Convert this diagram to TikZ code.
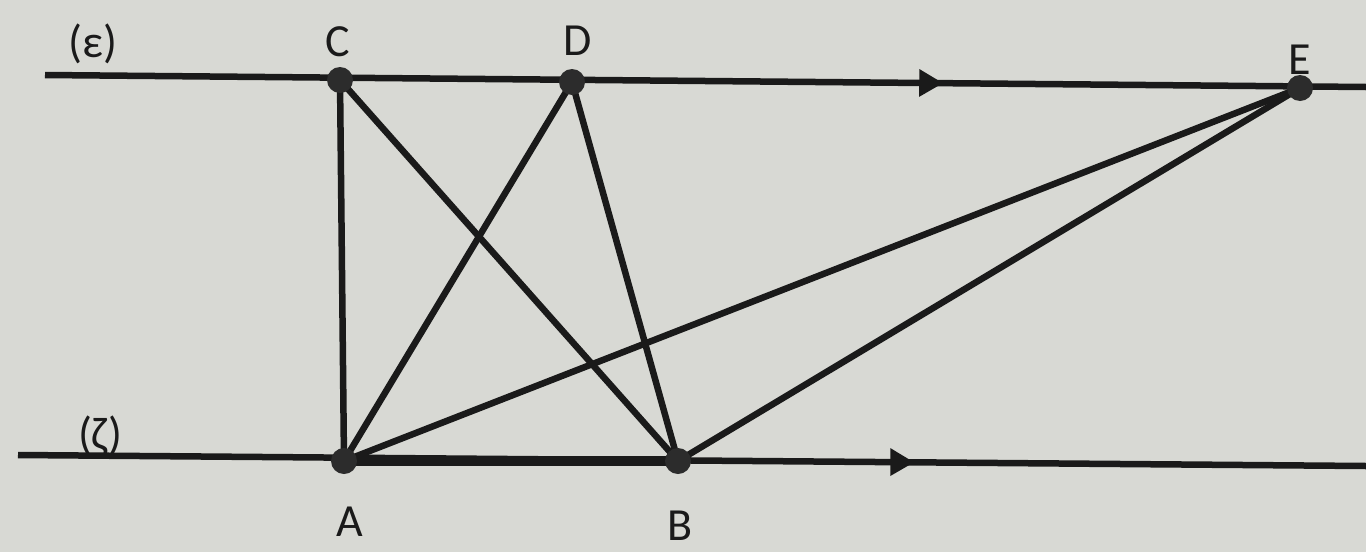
\documentclass[tikz,border=0pt]{standalone}
\usepackage{fontspec}
\setmainfont{Carlito}
\usetikzlibrary{arrows.meta,decorations.markings}
\definecolor{paper}{HTML}{D8D9D4}
\definecolor{ink}{HTML}{1A1A1A}
\definecolor{dotc}{HTML}{2C2C2C}
\tikzset{
  seg/.style={draw=ink,line width=6.5pt},
  thickseg/.style={draw=ink,line width=10pt},
  pt/.style={circle,fill=dotc,inner sep=0pt,minimum size=26pt},
  lbl/.style={text=ink,font=\fontsize{46}{50}\selectfont,inner sep=0pt},
  midarrow/.style={postaction={decorate},decoration={markings,
    mark=at position #1 with {\arrow[ink]{Triangle[length=24pt,width=26pt]}}}}
}
\begin{document}
\begin{tikzpicture}[x=1pt,y=-1pt]
\fill[paper] (0,0) rectangle (1366,552);
\useasboundingbox (0,0) rectangle (1366,552);
% line endpoints
\coordinate (e1) at (45,75);
\coordinate (e2) at (1366,87);
\coordinate (z1) at (18,455);
\coordinate (z2) at (1366,466);
% points
\coordinate (Cc) at (340,80);
\coordinate (Dc) at (572,82);
\coordinate (Ec) at (1300,88);
\coordinate (Ac) at (344,461);
\coordinate (Bc) at (678,461);
% parallel lines with arrows
\draw[seg,midarrow=0.68] (e1) -- (e2);
\draw[seg,midarrow=0.665] (z1) -- (z2);
% segments
\draw[thickseg] (Ac) -- (Bc);
\draw[seg] (Cc) -- (Ac);
\draw[seg] (Cc) -- (Bc);
\draw[seg] (Dc) -- (Ac);
\draw[seg] (Dc) -- (Bc);
\draw[seg] (Ec) -- (Ac);
\draw[seg] (Ec) -- (Bc);
% dots
\node[pt] (C) at (Cc) {};
\node[pt] (D) at (Dc) {};
\node[pt] (E) at (Ec) {};
\node[pt] (A) at (Ac) {};
\node[pt] (B) at (Bc) {};
% labels
\node[lbl] (leps) at (93,44) {(ε)};
\node[lbl] (lC) at (338,42) {C};
\node[lbl] (lD) at (578,41) {D};
\node[lbl] (lE) at (1300,60) {E};
\node[lbl] (lzeta) at (100,436) {(ζ)};
\node[lbl] (lA) at (350,522) {A};
\node[lbl] (lB) at (680,526) {B};
\end{tikzpicture}
\end{document}
